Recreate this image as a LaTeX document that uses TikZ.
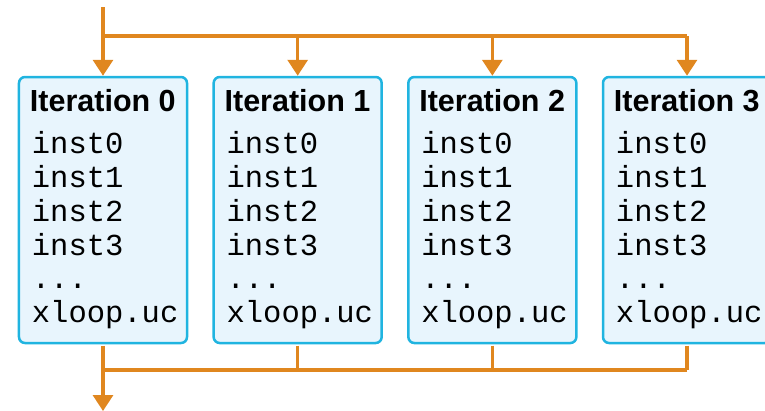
\documentclass[tikz,border=0pt]{standalone}
\usepackage{fontspec}
\setsansfont{Liberation Sans}
\setmonofont{Liberation Mono}
\usetikzlibrary{arrows.meta,calc}
\definecolor{flow}{HTML}{E0871F}
\definecolor{boxline}{HTML}{20B4E0}
\definecolor{boxfill}{HTML}{E8F5FD}

\begin{document}
\begin{tikzpicture}[x=1bp,y=-1bp,
  iter/.style={draw=boxline,fill=boxfill,line width=2.5bp,rounded corners=6bp,
    minimum width=168bp,minimum height=266bp,inner sep=0pt},
  head/.style={anchor=base west,inner sep=0pt,
    font=\sffamily\bfseries\fontsize{30.5bp}{33bp}\selectfont},
  code/.style={anchor=base west,inner sep=0pt,align=left,
    font=\ttfamily\fontsize{30.5bp}{33.8bp}\selectfont},
  wire/.style={draw=flow,line width=3.2bp},
  feed/.style={wire,-{Triangle[width=20bp,length=16bp]}}]
\useasboundingbox (0,0) rectangle (765,410);
\clip (0,0) rectangle (765,410);
% the four unrolled iterations
\foreach \i in {0,...,3}{
  \node[iter] (it\i) at (103+194.67*\i,210) {};
  \node[head] (head\i) at ($(it\i.north west)+(12,36)$) {Iteration \i};
  % base anchor sits on the last line
  \node[code] (code\i) at ($(it\i.north west)+(14,247)$)
    {inst0\\inst1\\inst2\\inst3\\...\\xloop.uc};
}
% fan out at the top
\coordinate (src) at (103,7);
\coordinate (fork) at (103,36);
\draw[wire] (src) -- (fork) -- (fork -| it3.north);
\foreach \i in {0,...,3}
  \draw[feed] (fork -| it\i.north) -- (it\i.north);
% join at the bottom
\coordinate (join) at (103,370);
\coordinate (sink) at (103,411);
\foreach \i in {1,...,3}
  \draw[wire,shorten <=1.25bp] (it\i.south) -- (join -| it\i.south);
\draw[wire] (join -| it3.south) -- (join);
\draw[feed,shorten <=1.25bp] (it0.south) -- (sink);
\end{tikzpicture}
\end{document}
